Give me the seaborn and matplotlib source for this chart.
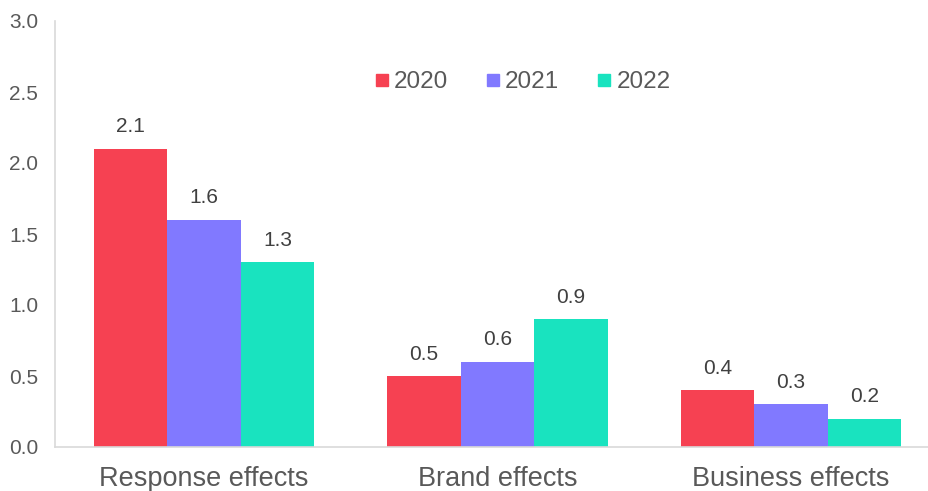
import matplotlib
matplotlib.use("Agg")
import matplotlib.pyplot as plt
import seaborn as sns
import pandas as pd
from matplotlib.lines import Line2D

categories = ["Response effects", "Brand effects", "Business effects"]
years = ["2020", "2021", "2022"]
values_2020 = [2.1, 0.5, 0.4]
values_2021 = [1.6, 0.6, 0.3]
values_2022 = [1.3, 0.9, 0.2]
yticks = [0.0, 0.5, 1.0, 1.5, 2.0, 2.5, 3.0]

colors = ["#F64152", "#8179FF", "#19E3BF"]

rows = []
for y, vals in zip(years, [values_2020, values_2021, values_2022]):
    for c, v in zip(categories, vals):
        rows.append({"category": c, "year": y, "value": v})
df = pd.DataFrame(rows)

sns.set_style("white")
plt.rcParams["font.family"] = ["Liberation Sans", "DejaVu Sans"]

fig = plt.figure(figsize=(9.29, 4.91), dpi=100)
ax = fig.add_axes([55/929, 1 - 447/491, 874/929, 426/491])

sns.barplot(data=df, x="category", y="value", hue="year", palette=colors,
            width=0.751, saturation=1, ax=ax, legend=False, errorbar=None,
            linewidth=0, edgecolor="none")

for cont in ax.containers:
    ax.bar_label(cont, labels=[f"{v:.1f}" for v in cont.datavalues],
                 padding=9, fontsize=15, color="#404040")

ax.set_ylim(0, 3.0)
ax.set_xlim(-0.508, 2.47)
ax.set_yticks(yticks)
ax.set_yticklabels([f"{t:.1f}" for t in yticks], fontsize=15, color="#595959")
ax.tick_params(axis="x", labelsize=19.5, colors="#595959", length=0, pad=14)
ax.tick_params(axis="y", length=0, pad=12)
ax.set_xlabel("")
ax.set_ylabel("")

for s in ["top", "right"]:
    ax.spines[s].set_visible(False)
for s in ["left", "bottom"]:
    ax.spines[s].set_color("#D9D9D9")
    ax.spines[s].set_linewidth(1.2)

handles = [Line2D([], [], marker="s", linestyle="none", markersize=8.6,
                  markerfacecolor=c, markeredgecolor=c) for c in colors]
leg = ax.legend(handles, years, loc="center", ncol=3,
                frameon=False, fontsize=17.5, handlelength=0.5, handletextpad=0.25,
                columnspacing=1.6, borderpad=0)
leg.set_bbox_to_anchor((523/929, 1 - 82/491), transform=fig.transFigure)
for t in leg.get_texts():
    t.set_color("#595959")

fig.savefig("out.png", dpi=100)
